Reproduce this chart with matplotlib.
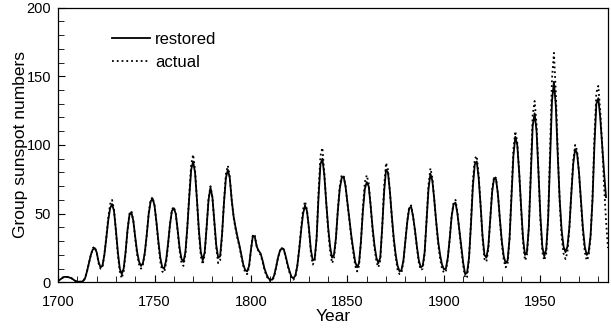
import numpy as np
import matplotlib
matplotlib.use("Agg")
import matplotlib.pyplot as plt
from matplotlib.ticker import MultipleLocator

plt.rcParams['font.family'] = ['Liberation Sans', 'DejaVu Sans']

# restored group sunspot numbers, 1700-1984 (yearly)
years_restored = np.arange(1700, 1985)
restored = [
    1, 2, 3, 4, 4, 4, 3.5, 3, 2, 1,                      # 1700
    0.5, 0.5, 0.5, 1, 3, 8, 14, 20, 24, 25,              # 1710
    22, 15, 11, 12, 20, 32, 45, 54, 57, 52,              # 1720
    38, 22, 10, 6, 10, 22, 38, 49, 51, 45,               # 1730
    33, 22, 15, 12, 14, 22, 35, 50, 59, 61,              # 1740
    56, 44, 30, 18, 11, 10, 16, 28, 42, 52,              # 1750
    54, 50, 38, 25, 17, 15, 22, 40, 62, 82,              # 1760
    88, 80, 60, 38, 22, 16, 22, 40, 60, 69,              # 1770
    62, 44, 27, 18, 19, 35, 58, 76, 82, 76,              # 1780
    60, 48, 40, 33, 27, 20, 13, 9, 8, 12,                # 1790
    24, 34, 33, 26, 23, 21, 16, 10, 6, 3,                # 1800
    2, 2, 5, 11, 18, 23, 25, 24, 19, 13,                 # 1810
    8, 4, 3, 5, 12, 24, 38, 50, 56, 52,                  # 1820
    40, 24, 16, 17, 32, 62, 86, 90, 78, 58,              # 1830
    40, 26, 18, 20, 32, 52, 68, 76, 77, 70,              # 1840
    58, 46, 34, 24, 15, 11, 14, 30, 52, 68,              # 1850
    73, 70, 56, 40, 27, 18, 14, 18, 40, 66,              # 1860
    82, 80, 66, 48, 32, 20, 12, 8, 9, 16,                # 1870
    30, 44, 54, 55, 48, 38, 26, 16, 11, 12,              # 1880
    22, 45, 68, 79, 74, 60, 44, 30, 20, 13,              # 1890
    9.5, 10, 18, 32, 48, 57, 58, 50, 38, 26,             # 1900
    14, 6, 7, 18, 42, 70, 86, 88, 76, 56,                # 1910
    34, 20, 18, 26, 46, 66, 76, 75, 64, 46,              # 1920
    30, 19, 14, 16, 32, 62, 92, 106, 100, 80,            # 1930
    55, 32, 20, 22, 40, 78, 114, 123, 110, 80,           # 1940
    48, 26, 19, 24, 46, 90, 132, 146, 128, 92,           # 1950
    60, 38, 26, 22, 26, 40, 64, 86, 97, 94,              # 1960
    80, 60, 40, 26, 20, 22, 34, 60, 100, 130,            # 1970
    134, 120, 100, 80, 62,                               # 1980
]

# actual group sunspot numbers, 1700-1985
years_actual = np.arange(1700, 1986)
actual = [
    1, 2, 3, 4, 4, 4, 3.5, 3, 2, 1,                      # 1700
    0.5, 0.5, 0.5, 1, 3, 8, 14, 20, 25, 26,              # 1710
    22, 14, 10, 11, 20, 33, 47, 57, 60, 53,              # 1720
    37, 20, 8, 3, 8, 21, 38, 50, 52, 45,                 # 1730
    32, 20, 13, 10, 13, 21, 35, 51, 60, 62,              # 1740
    56, 43, 28, 15, 8, 7, 14, 27, 42, 53,                # 1750
    55, 50, 37, 23, 14, 12, 20, 40, 64, 86,              # 1760
    93, 82, 60, 36, 19, 13, 20, 40, 61, 70,              # 1770
    62, 43, 25, 14, 16, 34, 59, 79, 85, 77,              # 1780
    60, 47, 39, 32, 26, 19, 12, 7, 6, 11,                # 1790
    24, 35, 34, 26, 22, 20, 15, 9, 5, 2,                 # 1800
    1, 1.5, 4, 11, 18, 23, 25, 24, 18, 12,               # 1810
    7, 3, 2, 4, 12, 25, 40, 53, 59, 53,                  # 1820
    39, 22, 13, 15, 32, 66, 92, 98, 80, 58,              # 1830
    38, 23, 14, 17, 31, 53, 70, 78, 78, 70,              # 1840
    57, 45, 32, 22, 12, 8, 12, 30, 55, 73,               # 1850
    78, 72, 56, 38, 25, 15, 11, 16, 40, 70,              # 1860
    87, 82, 66, 47, 30, 18, 9, 6, 7, 15,                 # 1870
    30, 45, 55, 56, 48, 37, 25, 14, 9, 10,               # 1880
    21, 46, 71, 83, 76, 60, 43, 28, 17, 10,              # 1890
    7, 8, 17, 32, 49, 58, 60, 51, 37, 24,                # 1900
    12, 3, 4, 17, 44, 74, 90, 92, 78, 56,                # 1910
    32, 17, 15, 24, 46, 68, 77, 76, 64, 45,              # 1920
    28, 16, 11, 13, 32, 65, 97, 110, 102, 80,            # 1930
    53, 29, 16, 19, 40, 82, 122, 132, 115, 80,           # 1940
    45, 22, 16, 21, 47, 96, 148, 167, 138, 95,           # 1950
    58, 33, 21, 17, 22, 39, 65, 89, 100, 96,             # 1960
    80, 58, 37, 22, 16, 19, 33, 62, 106, 138,            # 1970
    143, 125, 100, 70, 45, 25,                           # 1980
]

fig = plt.figure(figsize=(6.11, 3.28), dpi=100)
ax = fig.add_axes([0.095, 0.139, 0.9, 0.838])

ax.plot(years_restored, restored, c="black", lw=1.3, label="restored")
ax.plot(years_actual, actual, c="black", lw=1.3, ls=":", label="actual")

ax.set_xlim(1700, 1985)
ax.set_ylim(0, 200)
ax.xaxis.set_major_locator(MultipleLocator(50))
ax.xaxis.set_minor_locator(MultipleLocator(10))
ax.yaxis.set_major_locator(MultipleLocator(50))
ax.yaxis.set_minor_locator(MultipleLocator(10))
ax.tick_params(which="both", direction="in", labelsize=10.5, top=False, right=False)
ax.tick_params(which="major", length=5)
ax.tick_params(which="minor", length=4)
ax.tick_params(axis="x", which="major", pad=9)
ax.tick_params(axis="y", which="major", pad=5)
ax.set_xlabel("Year", fontsize=12.5, labelpad=0)
ax.set_ylabel("Group sunspot numbers", fontsize=12.5, labelpad=-1)
for s in ax.spines.values():
    s.set_linewidth(0.9)

ax.legend(loc="upper left", bbox_to_anchor=(0.07, 0.965), frameon=False,
          fontsize=12, handlelength=2.3, handletextpad=0.3, labelspacing=0.45)

fig.savefig("out.png", dpi=100)
